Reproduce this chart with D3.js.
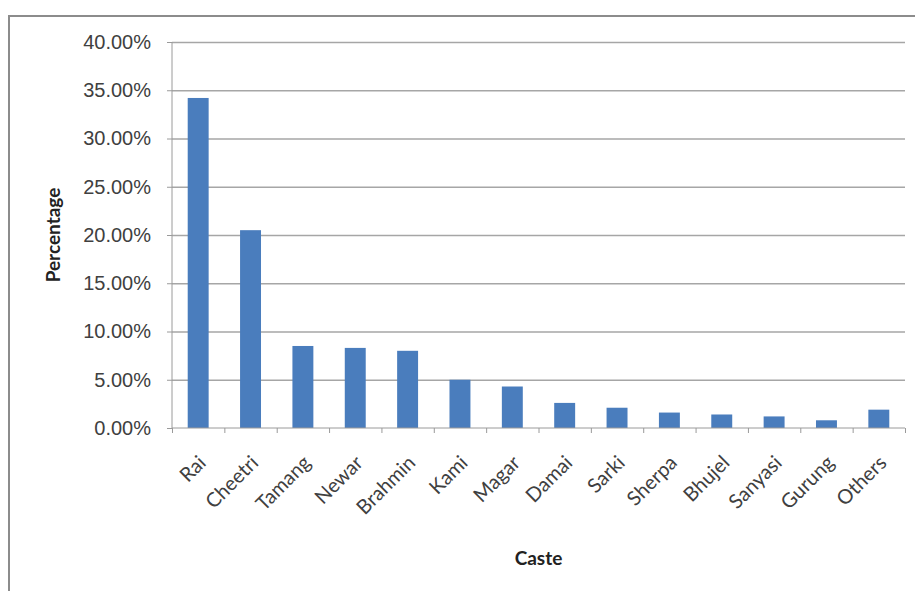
<!DOCTYPE html>
<html>
<head>
<meta charset="utf-8">
<script src="https://cdn.jsdelivr.net/npm/d3@7"></script>
<style>
body { margin: 0; background: #fff; }
svg { display: block; font-family: Lato, "Open Sans", sans-serif; }
.axis text { fill: #404040; font-size: 20px; }
.y.grid line { stroke: #a6a6a6; stroke-width: 1.5; }
.y.grid path { stroke: none; }
.axis path, .axis line { stroke: #9a9a9a; }
.title { font-weight: bold; font-size: 19px; fill: #222; }
</style>
</head>
<body>
<div id="chart"></div>
<script>
// Data
var CASTES = ['Rai', 'Cheetri', 'Tamang', 'Newar', 'Brahmin', 'Kami', 'Magar',
	'Damai', 'Sarki', 'Sherpa', 'Bhujel', 'Sanyasi', 'Gurung', 'Others'];
var PERCENTS = [34.2, 20.5, 8.5, 8.3, 8.0, 5.0, 4.3, 2.6, 2.1, 1.6, 1.4, 1.2, 0.8, 1.9];
var Y_TICKS = [0, 5, 10, 15, 20, 25, 30, 35, 40];

var width = 915;
var height = 591;
var plot = { left: 172, right: 905, top: 42, bottom: 428 };

var svg = d3.select('#chart')
	.append('svg')
	.attr('width', width)
	.attr('height', height);

// outer chart frame
svg.append('rect')
	.attr('x', 9)
	.attr('y', 16)
	.attr('width', width + 10)
	.attr('height', height + 10)
	.attr('fill', '#fff')
	.attr('stroke', '#8c8c8c')
	.attr('stroke-width', 2);

var xScale = d3.scaleBand()
	.domain(CASTES)
	.range([plot.left, plot.right])
	.paddingInner(0.6)
	.paddingOuter(0.3);

var slotScale = d3.scaleLinear()
	.domain([0, CASTES.length])
	.range([plot.left, plot.right]);

var yScale = d3.scaleLinear()
	.domain([0, 40])
	.range([plot.bottom, plot.top]);

// gridlines
svg.append('g')
	.attr('class', 'y grid')
	.attr('transform', 'translate(' + plot.left + ',0)')
	.call(d3.axisLeft(yScale)
		.tickValues(Y_TICKS.slice(1))
		.tickSize(-(plot.right - plot.left))
		.tickFormat(''));

// y axis
var yAxis = svg.append('g')
	.attr('class', 'y axis')
	.attr('transform', 'translate(' + plot.left + ',0)')
	.call(d3.axisLeft(yScale)
		.tickValues(Y_TICKS)
		.tickSize(5)
		.tickPadding(16)
		.tickFormat(function(d) { return d.toFixed(2) + '%'; }));
yAxis.select('.domain').attr('d', 'M0,' + plot.top + 'V' + plot.bottom);

// bars
svg.append('g')
	.attr('class', 'bars')
	.selectAll('rect')
	.data(PERCENTS)
	.enter()
	.append('rect')
	.attr('x', function(d, i) { return xScale(CASTES[i]); })
	.attr('width', xScale.bandwidth())
	.attr('y', function(d) { return yScale(d); })
	.attr('height', function(d) { return yScale(0) - yScale(d); })
	.attr('fill', '#4a7dbd');

// x axis ticks between categories
var xTicks = svg.append('g')
	.attr('class', 'x axis')
	.attr('transform', 'translate(0,' + plot.bottom + ')')
	.call(d3.axisBottom(slotScale)
		.ticks(CASTES.length)
		.tickSize(5)
		.tickFormat(''));
xTicks.select('.domain').attr('d', 'M' + plot.left + ',0H' + plot.right);

// category labels
svg.append('g')
	.attr('class', 'axis')
	.selectAll('text')
	.data(CASTES)
	.enter()
	.append('text')
	.attr('text-anchor', 'end')
	.attr('transform', function(d) {
		var x = xScale(d) + xScale.bandwidth() / 2 + 9;
		return 'translate(' + x + ',' + (plot.bottom + 36) + ') rotate(-45)';
	})
	.text(function(d) { return d; });

// axis titles
svg.append('text')
	.attr('class', 'title')
	.attr('text-anchor', 'middle')
	.attr('transform', 'translate(60,' + ((plot.top + plot.bottom) / 2) + ') rotate(-90)')
	.text('Percentage');

svg.append('text')
	.attr('class', 'title')
	.attr('text-anchor', 'middle')
	.attr('x', (plot.left + plot.right) / 2)
	.attr('y', 565)
	.text('Caste');
</script>
</body>
</html>
